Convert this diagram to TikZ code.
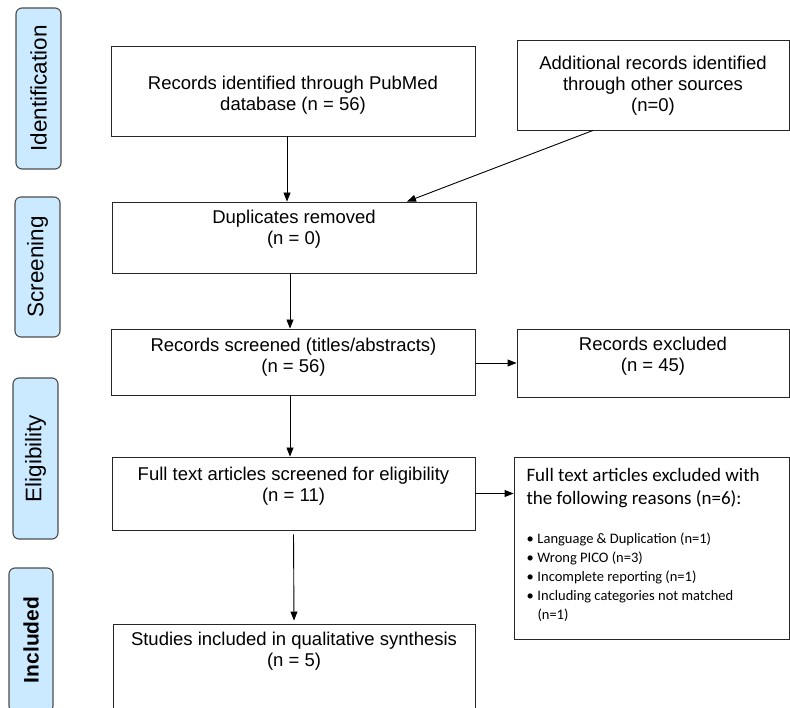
\documentclass[tikz,border=0pt]{standalone}
\usepackage{fontspec}
\setmainfont{Liberation Sans}
\newfontfamily\carlito{Carlito}
\usepackage{tikz}
\usetikzlibrary{arrows.meta}

\definecolor{phaseblue}{RGB}{204,234,255}

\begin{document}
\begin{tikzpicture}[
        x=1pt, y=-1pt,
        >={Triangle[length=9pt, width=7pt]},
        % boxes of the flow
        box/.style={rectangle, draw=black!85, line width=0.9pt, inner sep=0pt, font=\fontsize{18.5}{21}\selectfont},
        % phase labels on the left
        phase/.style={rectangle, rounded corners=6pt, draw=black!70, line width=1.1pt, fill=phaseblue, minimum height=45pt, rotate=90, font=\fontsize{22.5}{26}\selectfont},
        % connectors
        flow/.style={->, line width=0.9pt}
    ]
        \useasboundingbox (0,0) rectangle (790,708);

        % 1. Phase labels
        \node[phase, minimum width=161pt] (ident) at (38.5,88.5) {Identification};
        \node[phase, minimum width=140pt] (screen) at (37.5,267) {Screening};
        \node[phase, minimum width=161pt] (elig) at (35.5,458.5) {Eligibility};
        \node[phase, minimum width=144pt, minimum height=44pt, font=\fontsize{21}{24}\selectfont\bfseries] (incl) at (31,640) {Included};

        % 2. Boxes of the flow
        \node[box, minimum width=364pt, text height=44pt, text depth=46pt] (pubmed) at (293,91)
            {\begin{tabular}[t]{@{}c@{}}Records identified through PubMed\\database (n = 56)\end{tabular}};
        \node[box, minimum width=272pt, text height=30pt, text depth=60pt] (other) at (653,85)
            {\begin{tabular}[t]{@{}c@{}}Additional records identified\\through other sources\\(n=0)\end{tabular}};
        \node[box, minimum width=364pt, text height=22pt, text depth=49pt] (dup) at (294,237.5)
            {\begin{tabular}[t]{@{}c@{}}Duplicates removed\\(n = 0)\end{tabular}};
        \node[box, minimum width=364pt, text height=23pt, text depth=43pt] (screened) at (293.5,362)
            {\begin{tabular}[t]{@{}c@{}}Records screened (titles/abstracts)\\(n = 56)\end{tabular}};
        \node[box, minimum width=272pt, text height=22pt, text depth=46pt] (excl) at (653,363)
            {\begin{tabular}[t]{@{}c@{}}Records excluded\\(n = 45)\end{tabular}};
        \node[box, minimum width=363pt, text height=23pt, text depth=50pt] (full) at (293.5,493.5)
            {\begin{tabular}[t]{@{}c@{}}Full text articles screened for eligibility\\(n = 11)\end{tabular}};
        \node[box, minimum width=275pt, inner xsep=12.5pt, text height=25pt, text depth=157pt] (reasons) at (651.5,548)
            {\parbox[t]{250pt}{\raggedright\carlito
                \fontsize{19}{22}\selectfont Full text articles excluded with\\the following reasons (n=6):\par
                \fontsize{14.5}{19}\selectfont\vspace{21pt}
                \makebox[11pt][l]{\textbullet}Language \& Duplication (n=1)\par
                \makebox[11pt][l]{\textbullet}Wrong PICO (n=3)\par
                \makebox[11pt][l]{\textbullet}Incomplete reporting (n=1)\par
                \makebox[11pt][l]{\textbullet}Including categories not matched\par
                \hspace*{11pt}(n=1)}};
        \node[box, minimum width=362pt, text height=21pt, text depth=63pt] (studies) at (294,666)
            {\begin{tabular}[t]{@{}c@{}}Studies included in qualitative synthesis\\(n = 5)\end{tabular}};

        % 3. Connectors
        \draw[flow] ([xshift=-6pt]pubmed.south) -- ([xshift=-7pt]dup.north);
        \draw[flow] ([xshift=-60pt]other.south) -- ([xshift=113pt]dup.north);
        \draw[flow] ([xshift=-4pt]dup.south) -- ([xshift=-3.5pt]screened.north);
        \draw[flow] (screened.east |- excl.west) -- (excl.west);
        \draw[flow] ([xshift=-3.5pt]screened.south) -- ([xshift=-3.5pt]full.north);
        \draw[flow] (full.east) -- (full.east -| reasons.west);
        \draw[flow] ([yshift=-4pt]full.south) -- ([yshift=3pt]studies.north);

    \end{tikzpicture}
\end{document}
